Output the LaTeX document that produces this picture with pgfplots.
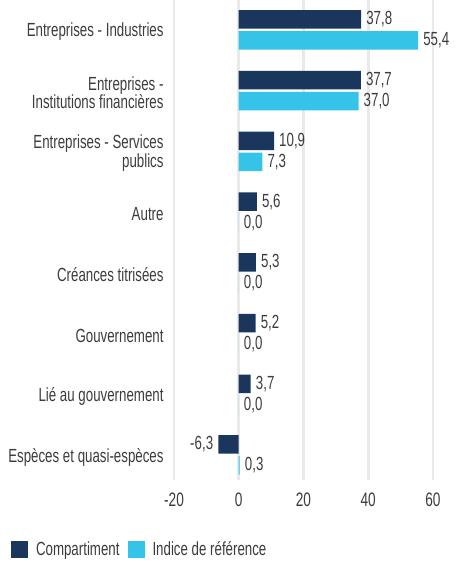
\documentclass[border=0pt]{standalone}
\usepackage{fontspec}
\setmainfont{Liberation Sans}[FakeStretch=0.70]
\usepackage{pgfplots}
\pgfplotsset{compat=1.18}
\definecolor{navy}{HTML}{1B365D}
\definecolor{cyanbar}{HTML}{36C3E8}
\definecolor{gridgray}{HTML}{E9E9E9}
\definecolor{txt}{HTML}{3C3C3C}
\newcommand\catfont{\fontsize{19}{17}\selectfont}
\newcommand\tickfont{\fontsize{19.5}{19}\selectfont}
\newcommand\valfont{\fontsize{19}{17}\selectfont}
\begin{document}
\begin{tikzpicture}
\begin{axis}[
  at={(174pt,83pt)}, anchor=south west,
  scale only axis, width=259pt, height=480pt,
  xmin=-20, xmax=60, ymin=-0.494, ymax=7.412,
  y dir=reverse,
  xbar, bar width=18.5pt,
  axis line style={draw=none}, tick style={draw=none},
  xtick={-20,0,20,40,60},
  xmajorgrids, grid style={line width=2.6pt, gridgray},
  ytick={0,...,7},
  yticklabels={{Entreprises - Industries},{Entreprises -\\Institutions financières},{Entreprises - Services\\publics},{Autre},{Créances titrisées},{Gouvernement},{Lié au gouvernement},{Espèces et quasi-espèces}},
  yticklabel style={align=right, font=\catfont, text=txt, inner sep=0pt, xshift=-6pt, yshift=-2pt},
  xticklabel style={font=\tickfont, text=txt, inner sep=0pt, yshift=-13pt},
  /pgf/number format/assume math mode=true,
  point meta=x,
  nodes near coords={\pgfmathprintnumber[fixed,fixed zerofill,precision=1,use comma,assume math mode=true]{\pgfplotspointmeta}},
  nodes near coords align=horizontal,
  every node near coord/.append style={font=\valfont, text=txt, inner xsep=5pt, inner ysep=0pt},
  clip=false,
  legend image code/.code={\fill[#1,draw=none] (0pt,-8.3pt) rectangle (17pt,8.3pt);},
  legend style={at={(axis description cs:-0.6293,-0.1448)}, anchor=west, draw=none, fill=none,
    inner sep=0pt, outer sep=0pt, font=\catfont, text=txt,
    nodes={inner xsep=0pt, inner ysep=0pt},
    /tikz/every odd column/.append style={column sep=8pt},
    /tikz/every even column/.append style={column sep=8pt}},
  legend columns=2,
  legend cell align=left,
]
\addplot[fill=navy, draw=none, bar shift=10.5pt] coordinates {
(37.8,0) (37.7,1) (10.9,2) (5.6,3) (5.3,4) (5.2,5) (3.7,6) (-6.3,7)};
\addplot[fill=cyanbar, draw=none, bar shift=-10.5pt] coordinates {
(55.4,0) (37.0,1) (7.3,2) (0.0,3) (0.0,4) (0.0,5) (0.0,6) (0.3,7)};
\legend{Compartiment, Indice de référence}
\end{axis}
\pgfresetboundingbox
\path[use as bounding box] (0,0) rectangle (458pt,563pt);
\end{tikzpicture}
\end{document}
